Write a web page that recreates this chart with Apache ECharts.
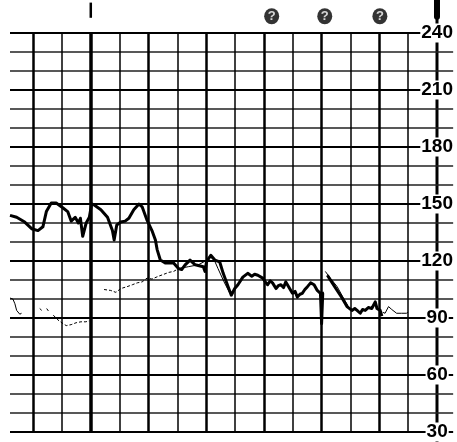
<!DOCTYPE html>
<html>
<head>
<meta charset="utf-8">
<style>
  html, body { margin: 0; padding: 0; background: #fff; }
  #chart { width: 457px; height: 442px; }
</style>
<script src="https://cdn.jsdelivr.net/npm/echarts@6/dist/echarts.min.js"></script>
</head>
<body>
<div id="chart"></div>
<script>
// Time is measured in chart-paper columns (one heavy/light vertical rule per column).
var paperColumns = [0, 1, 2, 3, 4, 5, 6, 7, 8, 9, 10, 11, 12, 13];
var heavyColumns = [0, 2, 4, 6, 8, 10, 12];
var scaleColumn = 14;

// Heart-rate scale, beats per minute
var bpmTicks = [30, 60, 90, 120, 150, 180, 210, 240];

// Fetal heart rate trace [column, bpm]
var fetalTrace = [
  [-0.80, 144], [-0.57, 143], [-0.29, 140.5], [-0.05, 137], [0.17, 136], [0.34, 138],
  [0.46, 146], [0.63, 150.5], [0.80, 150.5], [1.03, 148], [1.20, 146], [1.32, 141],
  [1.46, 143], [1.57, 140], [1.64, 142.5], [1.72, 133], [1.84, 140], [1.95, 143],
  [2.03, 150], [2.12, 149.5], [2.35, 147], [2.58, 143], [2.75, 136], [2.81, 131],
  [2.90, 139], [3.04, 140.5], [3.19, 141], [3.32, 142.5], [3.49, 147], [3.67, 150],
  [3.78, 148.5], [3.95, 141.5], [4.12, 136], [4.24, 131], [4.30, 126], [4.41, 120.5],
  [4.58, 119], [4.87, 119], [5.04, 116], [5.15, 115.5], [5.27, 118], [5.44, 120.5],
  [5.62, 118], [5.90, 117], [5.96, 114.5], [6.01, 119.5], [6.16, 123], [6.30, 120.5],
  [6.47, 119.5], [6.59, 113.5], [6.76, 106.5], [6.87, 102], [6.99, 105.5], [7.10, 107.5],
  [7.27, 111.5], [7.44, 113.5], [7.58, 112], [7.68, 113], [7.79, 112.5], [7.96, 111],
  [8.05, 109], [8.13, 107.5], [8.22, 109.5], [8.30, 108.5], [8.42, 105.5], [8.50, 107],
  [8.59, 107.5], [8.68, 106], [8.76, 109], [8.82, 108.5], [8.99, 103], [9.08, 104],
  [9.16, 101], [9.25, 102.5], [9.33, 103], [9.42, 105], [9.51, 106.5], [9.62, 108.5],
  [9.74, 107.5], [9.85, 104.5], [9.96, 103], [10.00, 87], [10.04, 103], [10.08, 103],
  [10.14, null],
  [10.20, 112.5], [10.37, 108.5], [10.54, 104.5], [10.71, 100.5], [10.88, 96],
  [11.05, 94], [11.15, 95], [11.23, 94], [11.34, 92.5], [11.42, 94.5], [11.51, 94],
  [11.62, 95.5], [11.74, 95], [11.80, 96], [11.86, 98.5], [11.92, 95], [12.03, 94],
  [12.09, 91]
];

// Maternal pulse trace, continuous stretches [column, bpm]
var maternalSolid = [
  [-0.80, 100.5], [-0.70, 100], [-0.63, 97.5], [-0.57, 94], [-0.46, 92], [-0.40, 92.5],
  [-0.30, null],
  [5.04, 116], [5.38, 117], [5.73, 118], [5.97, 120], [6.11, 122.5], [6.28, 120.5],
  [6.41, 116], [6.62, 109], [6.82, 103],
  [7.00, null],
  [10.13, 114.5], [10.30, 111], [10.54, 106.5], [10.74, 101], [10.95, 95.5],
  [11.50, null],
  [12.12, 93], [12.20, 92.5], [12.32, 96], [12.43, 94.5], [12.60, 92.5], [12.77, 92.5],
  [12.94, 92.5], [13.00, 93]
];

// Maternal pulse trace, broken-signal stretches [column, bpm]
var maternalBroken = [
  [0.23, 95], [0.30, 94], [0.38, null], [0.47, 95], [0.54, 93.5], [0.62, null],
  [0.70, 91.5], [0.86, 89], [1.04, 87], [1.15, 86], [1.32, 86.5], [1.49, 87.5],
  [1.66, 88], [1.83, 88], [1.95, 88.5],
  [2.20, null],
  [2.46, 105], [2.69, 104.5], [2.87, 103.5], [3.04, 105.5], [3.26, 106.5], [3.44, 107.5],
  [3.61, 108.5], [3.78, 109], [3.95, 111], [4.12, 110.5], [4.35, 112], [4.53, 113],
  [4.70, 114], [4.87, 114.5], [5.04, 116]
];

// Event marks printed along the top edge
var eventMarks = [[8.27, 248.8], [10.11, 248.8], [12.02, 248.8]];
var startMark = [[2.0, 256], [2.0, 248]];

var chart = echarts.init(document.getElementById('chart'));

var gridLines = paperColumns.map(function (k) {
  var w = k === 2 ? 3.5 : (heavyColumns.indexOf(k) >= 0 ? 2.5 : 1.5);
  return { xAxis: k, lineStyle: { color: '#000', width: w, type: 'solid' } };
});

chart.setOption({
  animation: false,
  backgroundColor: '#fff',
  grid: { left: 10, right: 0, top: 33, bottom: 10, containLabel: false },
  xAxis: {
    type: 'value', min: -0.8, max: 14.56,
    axisLine: { show: false }, axisTick: { show: false },
    axisLabel: { show: false }, splitLine: { show: false }
  },
  yAxis: {
    type: 'value', position: 'right', min: 30, max: 240, interval: 30,
    axisLine: { show: false }, axisTick: { show: false },
    axisLabel: {
      inside: true, margin: 16, align: 'center',
      color: '#000', fontFamily: 'Liberation Sans', fontWeight: 'bold', fontSize: 19,
      backgroundColor: '#fff', padding: [0, 1],
      formatter: function (v) { return bpmTicks.indexOf(v) >= 0 ? String(v) : ''; }
    },
    splitLine: { show: true, lineStyle: { color: '#000', width: 2 } },
    minorTick: { show: false, splitNumber: 3 },
    minorSplitLine: { show: true, lineStyle: { color: '#222', width: 1.5 } }
  },
  series: [
    {
      name: 'paper', type: 'line', z: -1, data: [], silent: true,
      markLine: { silent: true, symbol: 'none', label: { show: false }, data: gridLines }
    },
    {
      name: 'scale', type: 'line', z: -1, clip: false, symbol: 'none', silent: true,
      data: [[scaleColumn, 257.4], [scaleColumn, 24.7]],
      lineStyle: { color: '#000', width: 3 }
    },
    {
      name: 'scaleCap', type: 'line', z: -1, clip: false, symbol: 'none', silent: true,
      data: [[scaleColumn, 257.4], [scaleColumn, 248.5]],
      lineStyle: { color: '#000', width: 6, cap: 'round' }
    },
    {
      name: 'maternal', type: 'line', symbol: 'none', connectNulls: false,
      data: maternalSolid, lineStyle: { color: '#000', width: 1 }
    },
    {
      name: 'maternalBroken', type: 'line', symbol: 'none', connectNulls: false,
      data: maternalBroken, lineStyle: { color: '#000', width: 1, type: [3, 2] }
    },
    {
      name: 'fetal', type: 'line', symbol: 'none', connectNulls: false,
      data: fetalTrace, lineStyle: { color: '#000', width: 3, join: 'round' }
    },
    {
      name: 'start', type: 'line', clip: false, symbol: 'none',
      data: startMark, lineStyle: { color: '#000', width: 2.5 }
    },
    {
      name: 'events', type: 'scatter', clip: false, symbol: 'circle', symbolSize: [15, 16],
      data: eventMarks, itemStyle: { color: '#000' },
      label: {
        show: true, position: 'inside', formatter: '?', color: '#fff',
        fontFamily: 'Liberation Sans', fontWeight: 'bold', fontSize: 13
      }
    }
  ]
});
</script>
</body>
</html>
